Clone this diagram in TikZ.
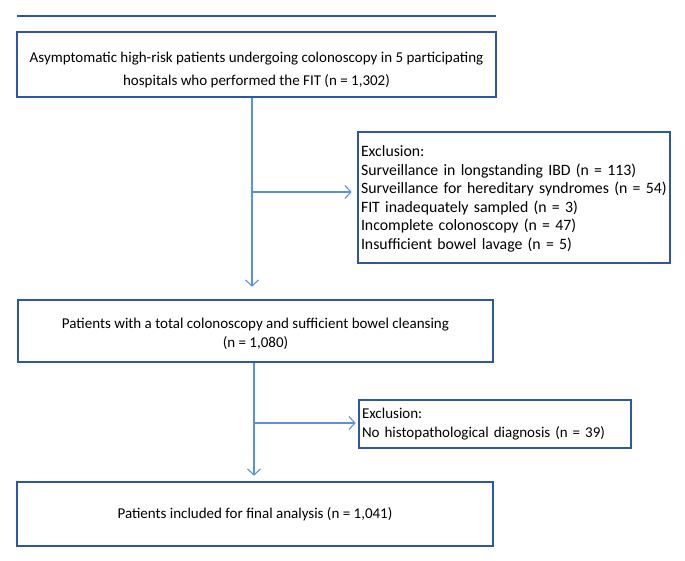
\documentclass[tikz,border=0pt]{standalone}
\usepackage{fontspec}
\setmainfont{Carlito}
\usetikzlibrary{arrows.meta}
\definecolor{boxblue}{HTML}{2E55A6}
\definecolor{arrblue}{HTML}{5B8FE0}
\begin{document}
\begin{tikzpicture}[x=1pt,y=-1pt,
  flowbox/.style={draw=boxblue,line width=2.6pt,minimum width=#1,inner sep=0pt,align=center,font=\fontsize{15}{19}\selectfont},
  exbox/.style={draw=boxblue,line width=2.6pt,inner xsep=3pt,inner ysep=0pt,align=left,text width=#1,font=\fontsize{15}{18.5}\selectfont},
  conn/.style={draw=arrblue,line width=1.1pt,-{Straight Barb[length=6pt,width=13pt,line width=1.1pt]}}]
\useasboundingbox (0,0) rectangle (685,561);
% top rule
\coordinate (rl) at (17,16);
\coordinate (rr) at (496,16);
\draw[boxblue,line width=2.4pt] (rl) -- (rr);
% boxes
\node[flowbox=479pt,minimum height=65pt,font=\fontsize{15}{23}\selectfont] (b1) at (256.5,64.5)
  {\rule{0pt}{21pt}Asymptomatic high-risk patients undergoing colonoscopy in 5 participating\\hospitals who performed the FIT (n = 1,302)};
\node[exbox=306pt,minimum height=131pt,font=\fontsize{15.8}{18.5}\selectfont] (e1) at (514,197.5)
  {\rule{0pt}{14pt}Exclusion:\\Surveillance in longstanding IBD (n = 113)\\Surveillance for hereditary syndromes (n = 54)\\FIT inadequately sampled (n = 3)\\Incomplete colonoscopy (n = 47)\\Insufficient bowel lavage (n = 5)};
\node[flowbox=475pt,minimum height=62pt] (b2) at (255.5,331)
  {\rule{0pt}{17pt}Patients with a total colonoscopy and sufficient bowel cleansing\\(n = 1,080)};
\node[exbox=266pt,minimum height=48pt] (e2) at (495,424)
  {Exclusion:\\No histopathological diagnosis (n = 39)};
\node[flowbox=476pt,minimum height=64pt] (b3) at (255,514)
  {Patients included for final analysis (n = 1,041)};
% connectors
\coordinate (j1) at (252,192);
\coordinate (j2) at (254,423);
\draw[conn,shorten >=12pt] (b1.south -| j1) -- (b2.north -| j1);
\draw[conn,shorten >=5pt] (j1) -- (e1.west |- j1);
\draw[conn,shorten >=5pt] (b2.south -| j2) -- (b3.north -| j2);
\draw[conn,shorten >=2pt] (j2) -- (e2.west |- j2);
\end{tikzpicture}
\end{document}
